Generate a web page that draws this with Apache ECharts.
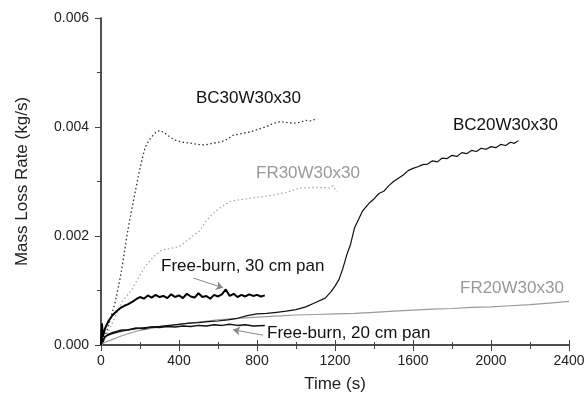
<!DOCTYPE html>
<html>
<head>
<meta charset="utf-8">
<script src="https://cdn.jsdelivr.net/npm/echarts@6/dist/echarts.min.js"></script>
<style>
html,body{margin:0;padding:0;background:#fff;}
#main{width:584px;height:396px;}
</style>
</head>
<body>
<div id="main"></div>
<script>
// values in units of 0.001 kg/s
var bc30Time = [0,20,37,50,72,90,106,120,132,145,157,175,191,210,226,245,260,280,303,330,360,379,420,465,500,533,570,619,650,678,720,764,800,850,880,918,960,1003,1050,1080,1106];
var bc30Val  = [0,0.15,0.34,0.50,0.77,1.08,1.38,1.70,1.99,2.25,2.48,2.80,3.09,3.40,3.62,3.75,3.82,3.90,3.94,3.88,3.80,3.76,3.72,3.70,3.68,3.67,3.70,3.73,3.78,3.85,3.88,3.91,3.95,4.01,4.06,4.10,4.08,4.07,4.12,4.11,4.16];

var fr30Time = [0,30,72,110,157,190,226,270,311,350,397,430,465,508,533,576,619,662,720,764,820,884,950,1021,1080,1140,1170,1190,1209];
var fr30Val  = [0,0.18,0.52,0.80,1.01,1.22,1.44,1.62,1.74,1.77,1.80,1.88,1.99,2.10,2.25,2.42,2.54,2.63,2.67,2.69,2.72,2.75,2.80,2.88,2.89,2.89,2.88,2.92,2.81];

var bc20Time = [0,20,50,100,150,200,250,300,350,400,450,500,550,600,650,700,750,800,850,900,950,1000,1050,1100,1150,1180,1200,1220,1240,1260,1280,1300,1320,1340,1360,1380,1400,1425,1450,1475,1500,1525,1550,1575,1600,1625,1650,1675,1700,1725,1750,1775,1800,1825,1850,1875,1900,1925,1950,1975,2000,2025,2050,2075,2100,2120,2140];
var bc20Val  = [0,0.15,0.20,0.25,0.28,0.31,0.33,0.34,0.36,0.38,0.40,0.41,0.43,0.44,0.46,0.49,0.54,0.57,0.58,0.60,0.62,0.65,0.70,0.78,0.86,0.98,1.08,1.20,1.40,1.65,1.85,2.15,2.30,2.45,2.54,2.62,2.68,2.78,2.82,2.92,3.00,3.06,3.12,3.20,3.24,3.27,3.31,3.32,3.38,3.36,3.43,3.42,3.48,3.46,3.53,3.51,3.57,3.55,3.61,3.59,3.64,3.62,3.68,3.66,3.72,3.70,3.75];

var fr20Time = [0,20,50,100,150,200,300,400,500,600,700,800,900,1000,1100,1200,1300,1400,1500,1600,1700,1800,1900,2000,2100,2200,2300,2400];
var fr20Val  = [0,0.05,0.09,0.16,0.22,0.27,0.33,0.38,0.42,0.46,0.49,0.51,0.53,0.55,0.56,0.57,0.58,0.60,0.62,0.64,0.66,0.67,0.69,0.70,0.72,0.74,0.77,0.80];

var fb30Time = [0,5,10,20,40,60,80,100,120,140,160,180,200,220,240,260,280,300,320,340,360,380,400,420,440,460,480,500,520,540,560,580,600,620,640,660,680,700,720,740,760,780,800,820,840];
var fb30Val  = [0,0.40,0.15,0.30,0.45,0.55,0.62,0.68,0.72,0.75,0.79,0.84,0.88,0.85,0.91,0.87,0.92,0.88,0.90,0.86,0.93,0.88,0.91,0.86,0.94,0.89,0.87,0.95,0.88,0.90,0.85,0.92,0.89,0.93,1.02,0.90,0.94,0.88,0.92,0.89,0.93,0.90,0.92,0.89,0.91];

var fb20Time = [0,5,10,20,40,60,80,100,140,180,220,260,300,340,380,420,460,500,540,580,620,660,700,740,780,840];
var fb20Val  = [0,0.25,0.05,0.15,0.20,0.23,0.25,0.27,0.28,0.31,0.30,0.33,0.32,0.34,0.33,0.35,0.34,0.36,0.35,0.37,0.36,0.38,0.36,0.37,0.35,0.36];

function pairs(t, v){
	var out = [];
	for (var i = 0; i < t.length; i++) out.push([t[i], v[i] / 1000]);
	return out;
}

var chart = echarts.init(document.getElementById('main'));

var axisColor = '#444';
var fontFam = 'Liberation Sans, Arial, sans-serif';

function note(txt, left, top, color){
	return {type: 'text', left: left, top: top,
		style: {text: txt, fontSize: 17, fill: color, fontFamily: fontFam}};
}

chart.setOption({
	animation: false,
	backgroundColor: '#fff',
	grid: {left: 101, right: 15, top: 18, bottom: 51, outerBoundsMode: 'none'},
	xAxis: [{
		type: 'value', position: 'bottom', min: 0, max: 2400, interval: 400,
		name: 'Time (s)', nameLocation: 'middle', nameGap: 31,
		nameTextStyle: {fontSize: 17, color: '#222', fontFamily: fontFam},
		axisLine: {show: true, lineStyle: {color: axisColor, width: 1.5}},
		axisTick: {show: true, length: 6, lineStyle: {color: axisColor}},
		minorTick: {show: true, splitNumber: 2, length: 4, lineStyle: {color: axisColor}},
		axisLabel: {fontSize: 14, color: '#222', margin: 9, fontFamily: fontFam,
			formatter: function(v){ return String(v); }},
		splitLine: {show: false}
	}, {
		type: 'value', position: 'top', min: 0, max: 2400, interval: 400,
		axisLine: {show: true, lineStyle: {color: axisColor, width: 1.5}},
		axisTick: {show: true, length: 5, lineStyle: {color: axisColor}},
		minorTick: {show: true, splitNumber: 2, length: 3, lineStyle: {color: axisColor}},
		axisLabel: {show: false},
		splitLine: {show: false}
	}],
	yAxis: [{
		type: 'value', min: 0, max: 0.006, interval: 0.002,
		name: 'Mass Loss Rate (kg/s)', nameLocation: 'middle', nameGap: 70,
		nameTextStyle: {fontSize: 17, color: '#222', fontFamily: fontFam},
		axisLine: {show: true, lineStyle: {color: axisColor, width: 1.5}},
		axisTick: {show: true, length: 6, lineStyle: {color: axisColor}},
		minorTick: {show: true, splitNumber: 2, length: 4, lineStyle: {color: axisColor}},
		axisLabel: {fontSize: 14, color: '#222', margin: 12, fontFamily: fontFam,
			formatter: function(v){ return v.toFixed(3); }},
		splitLine: {show: false}
	}, {
		type: 'value', position: 'right', min: 0, max: 0.006, interval: 0.002,
		axisLine: {show: true, lineStyle: {color: axisColor, width: 1.5}},
		axisTick: {show: false}, axisLabel: {show: false}, splitLine: {show: false}
	}],
	series: [{
		name: 'FR20W30x30', type: 'line', showSymbol: false, data: pairs(fr20Time, fr20Val),
		lineStyle: {color: '#9a9a9a', width: 1.2}
	}, {
		name: 'FR30W30x30', type: 'line', showSymbol: false, data: pairs(fr30Time, fr30Val),
		lineStyle: {color: '#aaaaaa', width: 1.3, type: [1.5, 2.5]}
	}, {
		name: 'BC30W30x30', type: 'line', showSymbol: false, data: pairs(bc30Time, bc30Val),
		lineStyle: {color: '#333333', width: 1.3, type: [1.5, 2.5]}
	}, {
		name: 'BC20W30x30', type: 'line', showSymbol: false, data: pairs(bc20Time, bc20Val),
		lineStyle: {color: '#111', width: 1.2}
	}, {
		name: 'Free-burn, 20 cm pan', type: 'line', showSymbol: false, data: pairs(fb20Time, fb20Val),
		lineStyle: {color: '#111', width: 1.5},
		markLine: {
			silent: true, symbol: ['none', 'arrow'], symbolSize: 7,
			label: {show: false},
			lineStyle: {color: '#888', width: 1, type: 'solid'},
			data: [[{coord: [831, 0.00018]}, {coord: [677, 0.00028]}]]
		}
	}, {
		name: 'Free-burn, 30 cm pan', type: 'line', showSymbol: false, data: pairs(fb30Time, fb30Val),
		lineStyle: {color: '#000', width: 2},
		markLine: {
			silent: true, symbol: ['none', 'arrow'], symbolSize: 7,
			label: {show: false},
			lineStyle: {color: '#888', width: 1, type: 'solid'},
			data: [[{coord: [472, 0.00123]}, {coord: [626, 0.00105]}]]
		}
	}],
	graphic: [
		note('BC30W30x30', 196, 90, '#111'),
		note('FR30W30x30', 256, 165, '#999'),
		note('BC20W30x30', 453, 117, '#111'),
		note('FR20W30x30', 460, 280, '#999'),
		note('Free-burn, 30 cm pan', 161, 258, '#111'),
		note('Free-burn, 20 cm pan', 267, 325, '#111')
	]
});
</script>
</body>
</html>
